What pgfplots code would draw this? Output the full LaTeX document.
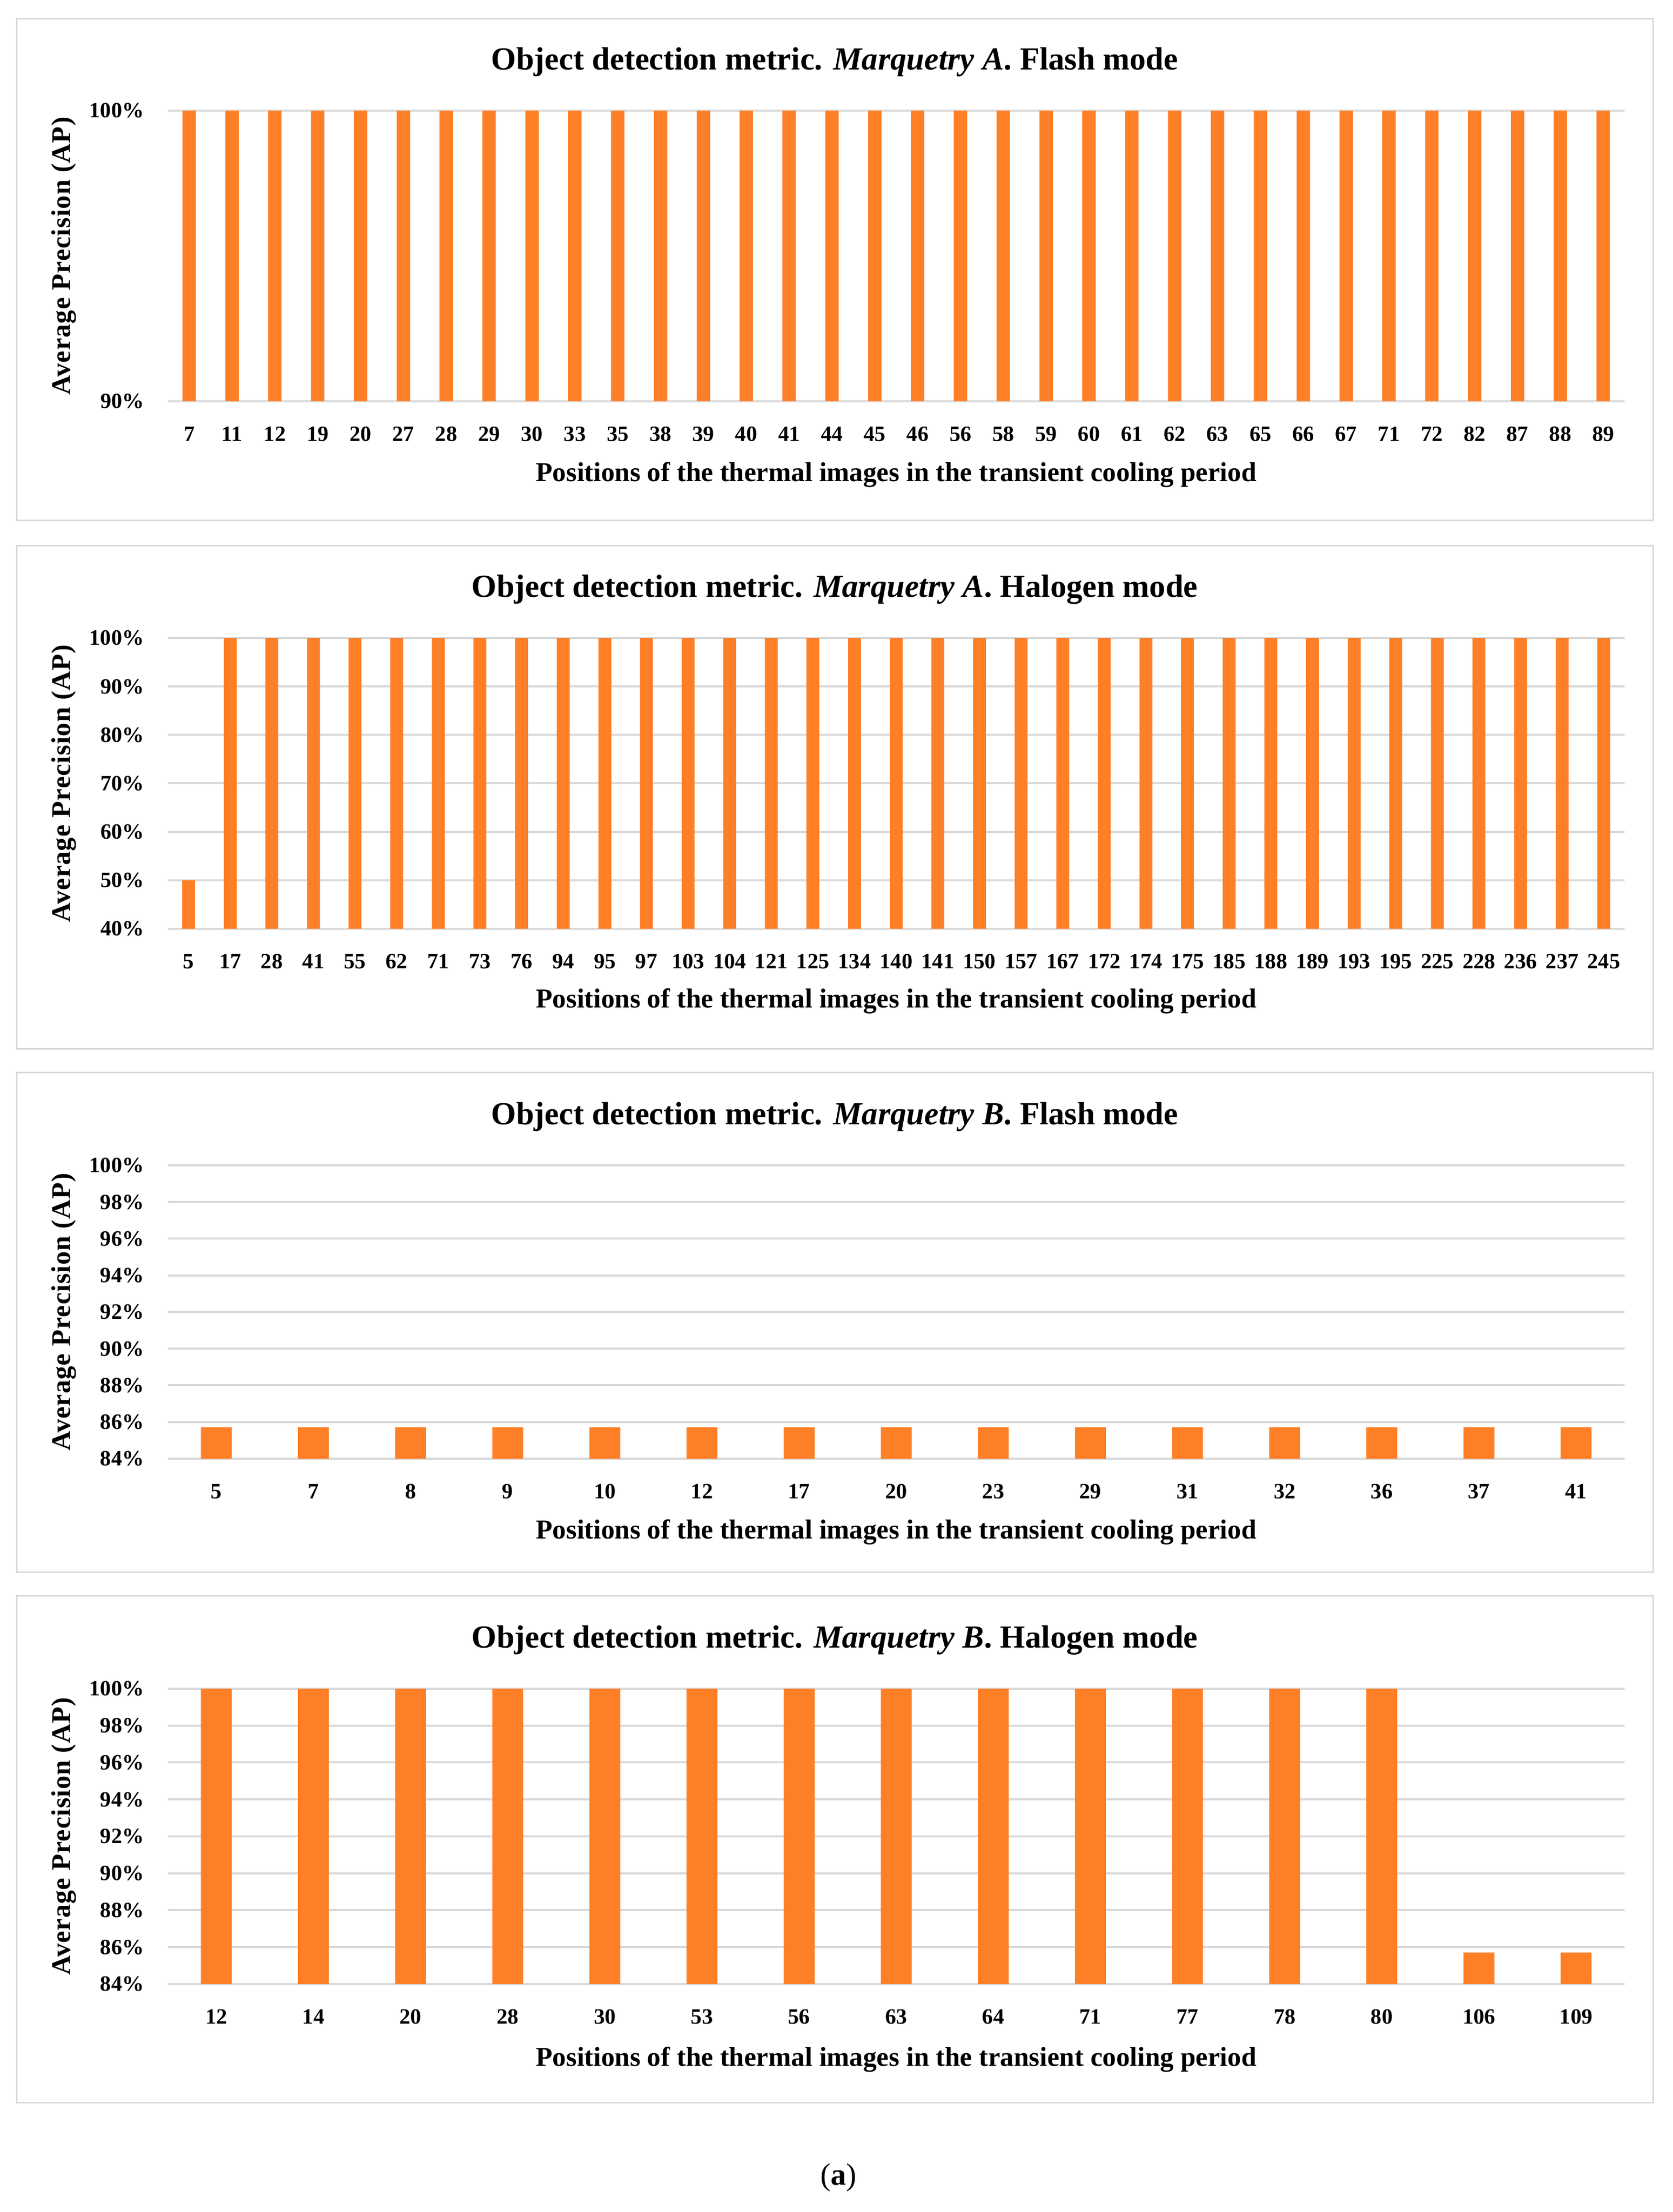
\documentclass[border=0pt]{standalone}
\usepackage{fontspec}
\setmainfont{Liberation Serif}
\usepackage{pgfplots}
\usepackage{pgfplotstable}
\pgfplotsset{compat=1.18}

\definecolor{barorange}{HTML}{FF7F27}
\definecolor{gridgray}{HTML}{D9D9D9}

% positions and AP (%) of each panel
\pgfplotstableread{
pos ap
7 100
11 100
12 100
19 100
20 100
27 100
28 100
29 100
30 100
33 100
35 100
38 100
39 100
40 100
41 100
44 100
45 100
46 100
56 100
58 100
59 100
60 100
61 100
62 100
63 100
65 100
66 100
67 100
71 100
72 100
82 100
87 100
88 100
89 100
}\flashA

\pgfplotstableread{
pos ap
5 50
17 100
28 100
41 100
55 100
62 100
71 100
73 100
76 100
94 100
95 100
97 100
103 100
104 100
121 100
125 100
134 100
140 100
141 100
150 100
157 100
167 100
172 100
174 100
175 100
185 100
188 100
189 100
193 100
195 100
225 100
228 100
236 100
237 100
245 100
}\halogenA

\pgfplotstableread{
pos ap
5 85.71
7 85.71
8 85.71
9 85.71
10 85.71
12 85.71
17 85.71
20 85.71
23 85.71
29 85.71
31 85.71
32 85.71
36 85.71
37 85.71
41 85.71
}\flashB

\pgfplotstableread{
pos ap
12 100
14 100
20 100
28 100
30 100
53 100
56 100
63 100
64 100
71 100
77 100
78 100
80 100
106 85.71
109 85.71
}\halogenB

\pgfplotsset{
  apchart/.style={
    scale only axis,
    width=566.2pt,
    axis line style={draw=none},
    tick style={draw=none},
    ymajorgrids,
    major grid style={gridgray, line width=0.8pt},
    xtick=data,
    ybar,
    ticklabel style={font=\bfseries\fontsize{8.5}{10}\selectfont},
    xticklabel style={anchor=center, yshift=-8.4pt},
    yticklabel style={anchor=east, inner sep=0pt, xshift=-9pt},
    ylabel={Average Precision (AP)},
    ylabel style={at={(axis description cs:-0.0714,0.5)}, anchor=center,
      font=\bfseries\fontsize{10.5}{12}\selectfont\addfontfeatures{LetterSpace=2}},
    xlabel={Positions of the thermal images in the transient cooling period},
    xlabel style={font=\bfseries\fontsize{10.6}{12}\selectfont, anchor=center},
  },
}
\newcommand{\paneltitle}[3]{%
  \node[anchor=base, font=\bfseries\fontsize{12.5}{14}\selectfont]
    at (324.4pt,#1) {Object detection metric. \textit{#2}. #3};}

\begin{document}
\begin{tikzpicture}
\fill[white] (0,0) rectangle (650.2pt,859.8pt);
\draw[gridgray, line width=0.6pt] (6.4pt,657.4pt) rectangle (642.4pt,852.4pt);
\draw[gridgray, line width=0.6pt] (6.4pt,452.0pt) rectangle (642.4pt,647.6pt);
\draw[gridgray, line width=0.6pt] (6.4pt,248.6pt) rectangle (642.4pt,442.8pt);
\draw[gridgray, line width=0.6pt] (6.4pt,42.4pt) rectangle (642.4pt,239.4pt);

% Marquetry A, flash
\begin{axis}[apchart, at={(65.2pt,703.8pt)}, anchor=south west, height=113pt,
  ymin=90, ymax=100, ytick={90,100}, yticklabels={90\%,100\%},
  xmin=-0.5, xmax=33.5, bar width=5.2pt,
  xticklabels from table={\flashA}{pos},
  xlabel style={at={(axis description cs:0.5,-0.253)}}]
\addplot[fill=barorange, draw=none] table[x expr=\coordindex, y=ap] {\flashA};
\end{axis}
\paneltitle{832.6pt}{Marquetry A}{Flash mode}

% Marquetry A, halogen
\begin{axis}[apchart, at={(65.2pt,498.8pt)}, anchor=south west, height=113pt,
  ymin=40, ymax=100, ytick={40,50,...,100},
  yticklabels={40\%,50\%,60\%,70\%,80\%,90\%,100\%},
  xmin=-0.5, xmax=34.5, bar width=5pt,
  xticklabels from table={\halogenA}{pos},
  xlabel style={at={(axis description cs:0.5,-0.2496)}}]
\addplot[fill=barorange, draw=none] table[x expr=\coordindex, y=ap] {\halogenA};
\end{axis}
\paneltitle{627.6pt}{Marquetry A}{Halogen mode}

% Marquetry B, flash
\begin{axis}[apchart, at={(65.2pt,292.8pt)}, anchor=south west, height=114pt,
  ymin=84, ymax=100, ytick={84,86,...,100},
  yticklabels={84\%,86\%,88\%,90\%,92\%,94\%,96\%,98\%,100\%},
  xmin=-0.5, xmax=14.5, bar width=12pt,
  xticklabels from table={\flashB}{pos},
  xlabel style={at={(axis description cs:0.5,-0.251)}}]
\addplot[fill=barorange, draw=none] table[x expr=\coordindex, y=ap] {\flashB};
\end{axis}
\paneltitle{422.6pt}{Marquetry B}{Flash mode}

% Marquetry B, halogen
\begin{axis}[apchart, at={(65.2pt,88.6pt)}, anchor=south west, height=114.8pt,
  ymin=84, ymax=100, ytick={84,86,...,100},
  yticklabels={84\%,86\%,88\%,90\%,92\%,94\%,96\%,98\%,100\%},
  xmin=-0.5, xmax=14.5, bar width=12pt,
  xticklabels from table={\halogenB}{pos},
  xlabel style={at={(axis description cs:0.5,-0.256)}}]
\addplot[fill=barorange, draw=none] table[x expr=\coordindex, y=ap] {\halogenB};
\end{axis}
\paneltitle{219.2pt}{Marquetry B}{Halogen mode}

\node[font=\fontsize{12}{14}\selectfont] at (325.8pt,13.4pt) {(\textbf{a})};
\end{tikzpicture}
\end{document}
